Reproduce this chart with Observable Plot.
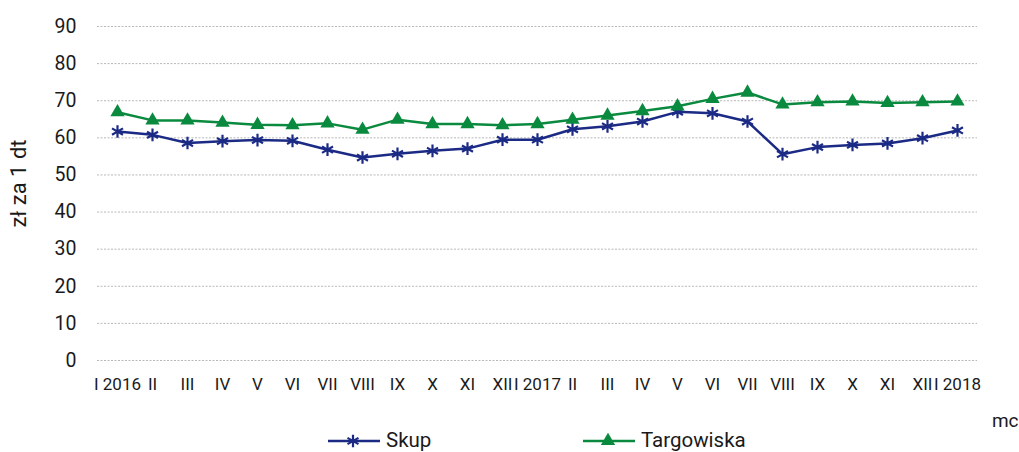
<!DOCTYPE html>
<html>
<head>
<meta charset="utf-8">
<script src="https://cdn.jsdelivr.net/npm/d3@7"></script>
<script src="https://cdn.jsdelivr.net/npm/@observablehq/plot@0.6"></script>
<style>
  html, body { margin: 0; padding: 0; background: #fff; }
  #wrap { position: relative; width: 1019px; height: 452px; overflow: hidden; font-family: Roboto, "Noto Sans", sans-serif; color: #1a1a1a; }
  .leg { position: absolute; top: 428px; height: 24px; display: flex; align-items: center; font-size: 20.5px; line-height: 24px; }
  .leg svg { display: block; margin-right: 6px; }
</style>
</head>
<body>
<div id="wrap"></div>
<script>
const labels = ["I 2016","II","III","IV","V","VI","VII","VIII","IX","X","XI","XII",
                "I 2017","II","III","IV","V","VI","VII","VIII","IX","X","XI","XII","I 2018"];
const skup = [61.7,60.8,58.6,59.1,59.4,59.2,56.8,54.7,55.7,56.5,57.1,59.5,
              59.5,62.3,63.1,64.4,67.0,66.6,64.4,55.6,57.5,58.1,58.5,59.9,62.0];
const targowiska = [66.9,64.7,64.7,64.1,63.5,63.4,63.9,62.2,64.9,63.7,63.7,63.4,
                    63.7,64.9,66.0,67.2,68.5,70.5,72.2,69.0,69.6,69.8,69.4,69.6,69.8];
const yTicks = [0,10,20,30,40,50,60,70,80,90];
const seriesNames = ["Skup","Targowiska"];
const colors = ["#1b2a84","#0a8a3e"];

const rowsSkup = skup.map((v, i) => ({i, v}));
const rowsTarg = targowiska.map((v, i) => ({i, v}));
const idx = d3.range(labels.length);

const chart = Plot.plot({
  width: 1019,
  height: 430,
  marginLeft: 97,
  marginRight: 42,
  marginTop: 26,
  marginBottom: 70,
  style: { fontFamily: "Roboto, 'Noto Sans', sans-serif", fontSize: "17px", color: "#1a1a1a", background: "#fff", overflow: "visible" },
  x: { type: "point", domain: idx, padding: 0.5, axis: null },
  y: { domain: [0, 90], axis: null },
  marks: [
    Plot.gridY(yTicks, { stroke: "#b8b8b8", strokeOpacity: 1, strokeDasharray: "2,1.5", strokeWidth: 1 }),
    Plot.text(yTicks, { y: d => d, frameAnchor: "left", textAnchor: "end", dx: -21, fontSize: 19.5, fill: "#1a1a1a" }),
    Plot.text(idx, { x: d => d, text: d => labels[d], frameAnchor: "bottom", lineAnchor: "middle", dy: 24, fontSize: 17, fill: "#1a1a1a" }),
    Plot.text(["zł za 1 dt"], { frameAnchor: "left", textAnchor: "middle", rotate: -90, dx: -79, dy: -10, fontSize: 22, fill: "#1a1a1a" }),
    Plot.text(["mc"], { frameAnchor: "bottom-right", textAnchor: "end", lineAnchor: "middle", dx: 41, dy: 60, fontSize: 19, fill: "#1a1a1a" }),
    Plot.line(rowsSkup, { x: "i", y: "v", stroke: colors[0], strokeWidth: 2.5 }),
    Plot.dot(rowsSkup, { x: "i", y: "v", symbol: "asterisk", r: 6, stroke: colors[0], strokeWidth: 2.2 }),
    Plot.line(rowsTarg, { x: "i", y: "v", stroke: colors[1], strokeWidth: 2.5 }),
    Plot.dot(rowsTarg, { x: "i", y: "v", symbol: "triangle", r: 5.3, fill: colors[1], stroke: "none" })
  ]
});

const wrap = document.getElementById("wrap");
wrap.appendChild(chart);

function legendItem(name, color, kind, left) {
  const d = document.createElement("div");
  d.className = "leg";
  d.style.left = left + "px";
  const sym = kind === "asterisk" ? d3.symbolAsterisk : d3.symbolTriangle;
  const size = kind === "asterisk" ? Math.PI * 36 : Math.PI * 5.3 * 5.3;
  const path = d3.symbol(sym, size)();
  const sw = kind === "asterisk"
    ? `<path d="${path}" transform="translate(25,13)" fill="none" stroke="${color}" stroke-width="2.2"/>`
    : `<path d="${path}" transform="translate(25,13)" fill="${color}"/>`;
  d.innerHTML = `<svg width="52" height="24"><line x1="0" x2="52" y1="13" y2="13" stroke="${color}" stroke-width="2.5"/>${sw}</svg><span>${name}</span>`;
  wrap.appendChild(d);
}
legendItem(seriesNames[0], colors[0], "asterisk", 328);
legendItem(seriesNames[1], colors[1], "triangle", 583);
</script>
</body>
</html>
